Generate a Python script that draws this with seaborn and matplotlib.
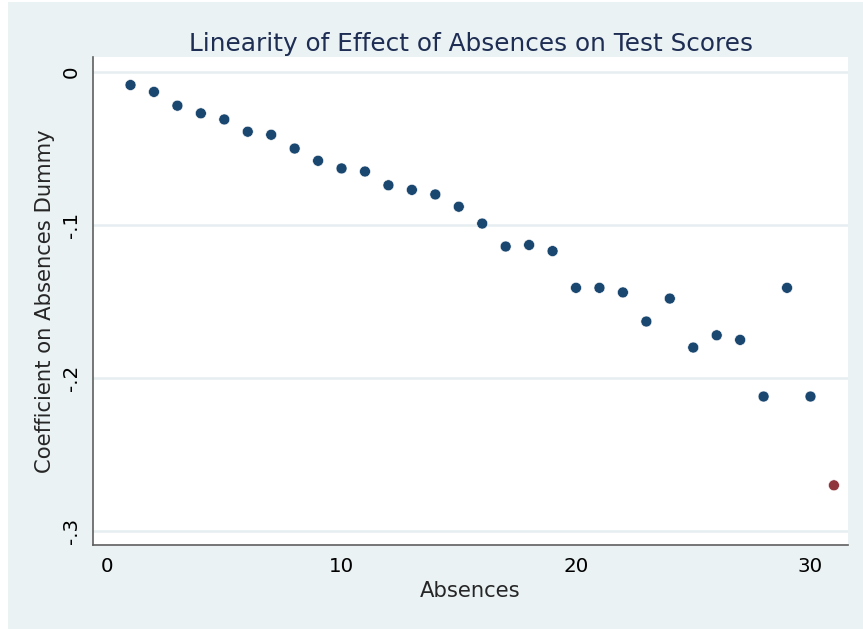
import pandas as pd
import numpy as np
import matplotlib
matplotlib.use("Agg")
import matplotlib.pyplot as plt
import seaborn as sns
from matplotlib.patches import Rectangle

absences = list(range(1, 32))
coefs = [-0.0085, -0.013, -0.022, -0.027, -0.031, -0.039, -0.041, -0.050, -0.058, -0.063,
         -0.065, -0.074, -0.077, -0.080, -0.088, -0.099, -0.114, -0.113, -0.117, -0.141,
         -0.141, -0.144, -0.163, -0.148, -0.180, -0.172, -0.175, -0.212, -0.141, -0.212,
         -0.270]
group = ["main"] * 30 + ["last"]
yticks = [0, -0.1, -0.2, -0.3]
ytick_labels = ["0", "-.1", "-.2", "-.3"]
xticks = [0, 10, 20, 30]

df = pd.DataFrame({"absences": absences, "coef": coefs, "group": group})

sns.set_style("white")
plt.rcParams['font.family'] = ['DejaVu Sans']

bg = "#EAF2F3"
navy = "#1A476F"
maroon = "#90353B"

fig = plt.figure(figsize=(8.63, 6.29), dpi=100, facecolor="white")
# light bluish-gray graph region (white strip on left and top edge)
fig.patches.append(Rectangle((8 / 863, 0), 855 / 863, 627 / 629, transform=fig.transFigure,
                             facecolor=bg, edgecolor="none", zorder=-10))
ax = fig.add_axes([93 / 863, 1 - 545 / 629, (848 - 93) / 863, (545 - 57) / 629])
ax.set_facecolor("white")

sns.scatterplot(data=df, x="absences", y="coef", hue="group",
                palette={"main": navy, "last": maroon}, s=62,
                edgecolor="white", linewidth=0.4, legend=False, ax=ax, zorder=3)

ax.set_xlim(-0.6, 31.6)
ax.set_ylim(-0.309, 0.0098)
ax.set_xticks(xticks)
ax.set_yticks(yticks)
ax.set_yticklabels(ytick_labels)
for y in yticks:
    ax.axhline(y, color="#E6EEF1", lw=1.8, zorder=1)

for side in ["top", "right"]:
    ax.spines[side].set_visible(False)
for side in ["left", "bottom"]:
    ax.spines[side].set_color("#5F5F5F")
    ax.spines[side].set_linewidth(1.2)

ax.tick_params(axis="both", direction="out", length=5, width=1.2, color="#5F5F5F",
               labelsize=14.3, labelcolor="black", pad=4)
ax.tick_params(axis="y", labelrotation=90)
for lbl in ax.get_yticklabels():
    lbl.set_va("center")

ax.set_xlabel("Absences", fontsize=15.2, labelpad=3)
ax.set_ylabel("Coefficient on Absences Dummy", fontsize=15.2, labelpad=5)
ax.set_title("Linearity of Effect of Absences on Test Scores", fontsize=17.8, color="#1E2D53", pad=4)

fig.savefig("out.png", dpi=100, facecolor="white")
